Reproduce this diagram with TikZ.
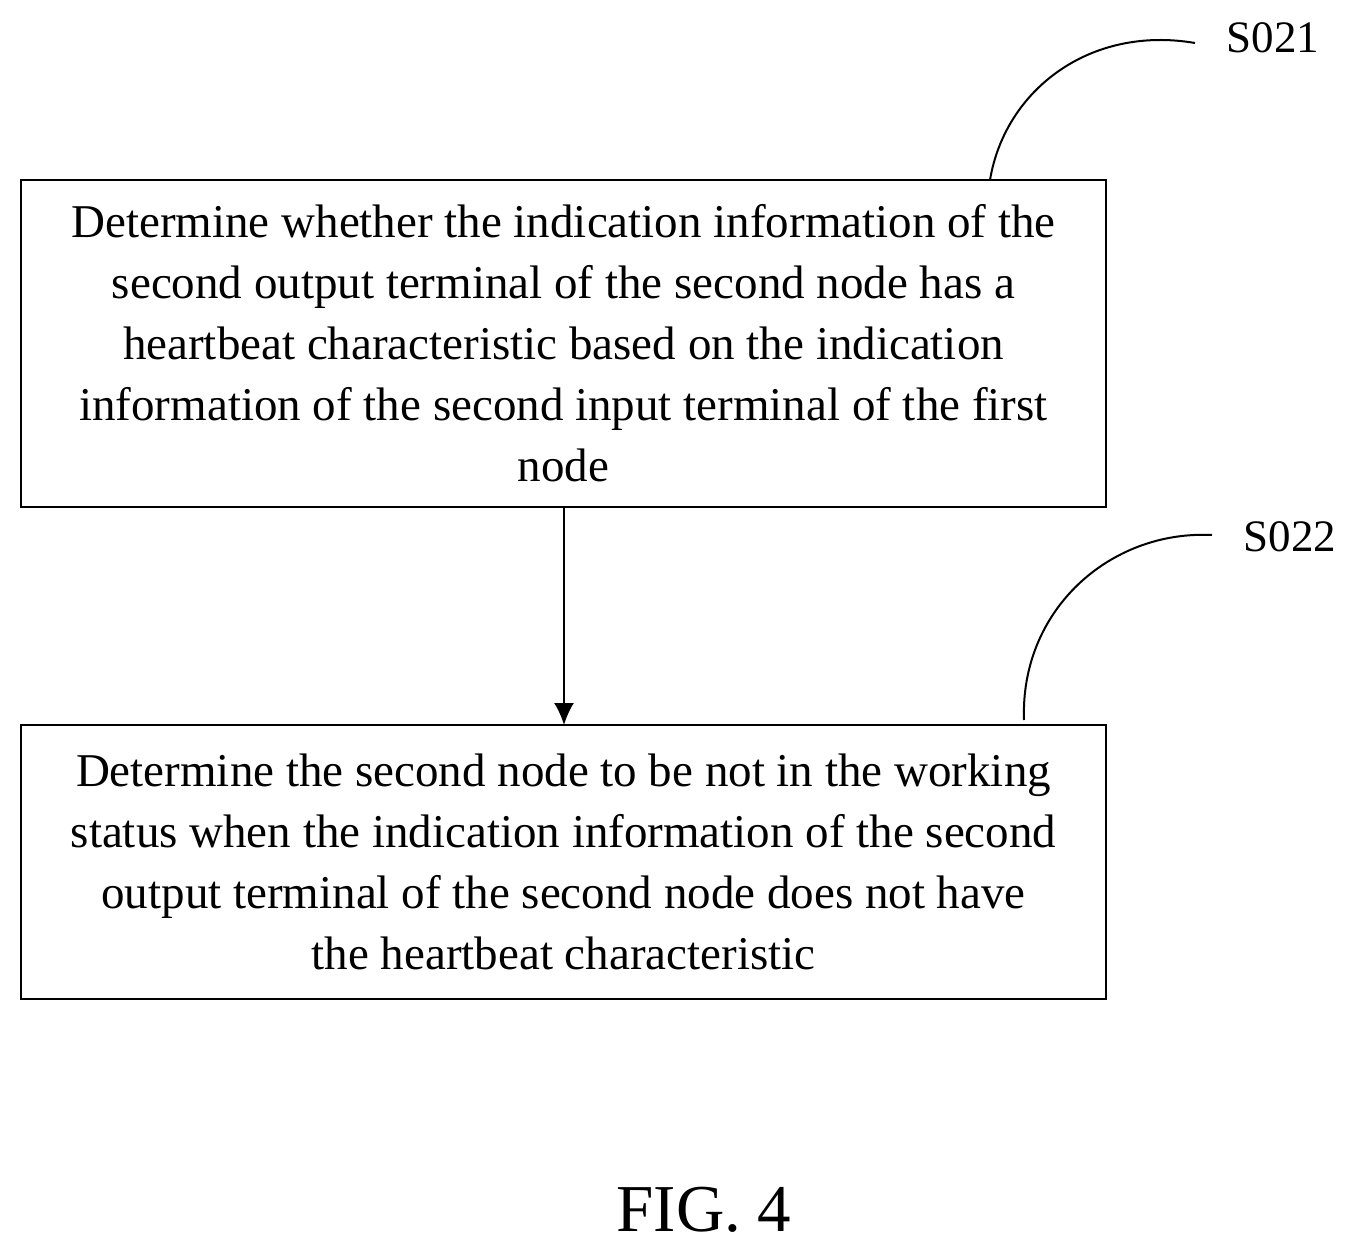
\documentclass[tikz,border=0pt]{standalone}
\usepackage{fontspec}
\setmainfont{Liberation Serif}
\usetikzlibrary{arrows.meta}
\begin{document}
\begin{tikzpicture}[x=1pt,y=-1pt,
  box/.style={draw,line width=1.5pt,align=center,font=\fontsize{47}{61}\selectfont,inner sep=0pt},
  lbl/.style={font=\fontsize{45}{50}\selectfont},
  ln/.style={line width=2pt}]
\useasboundingbox (0,0) rectangle (1360,1252);
\draw[ln] (21,180) rectangle (1106,507);
\node[box,draw=none] (b1) at (563.5,343.5) {Determine whether the indication information of the\\second output terminal of the second node has a\\heartbeat characteristic based on the indication\\information of the second input terminal of the first\\node};
\coordinate (b1s) at (564,507);
\draw[ln] (21,725) rectangle (1106,999);
\node[box,draw=none] (b2) at (563.5,862) {Determine the second node to be not in the working\\status when the indication information of the second\\output terminal of the second node does not have\\the heartbeat characteristic};
\coordinate (b2n) at (564,725);
\draw[ln,-{Latex[length=22pt,width=20pt]}] (b1s) -- (b2n);
\node[lbl] (s1) at (1273,38) {S021};
\node[lbl] (s2) at (1290,537) {S022};
\coordinate (c1) at (990,180);
\coordinate (c2) at (1024,720);
\draw[ln] (c1) .. controls (1005,90) and (1090,25) .. (1195,43);
\draw[ln] (c2) .. controls (1020,610) and (1110,530) .. (1212,535);
\node[font=\fontsize{67}{72}\selectfont] (fig) at (704,1210) {FIG. 4};
\end{tikzpicture}
\end{document}
